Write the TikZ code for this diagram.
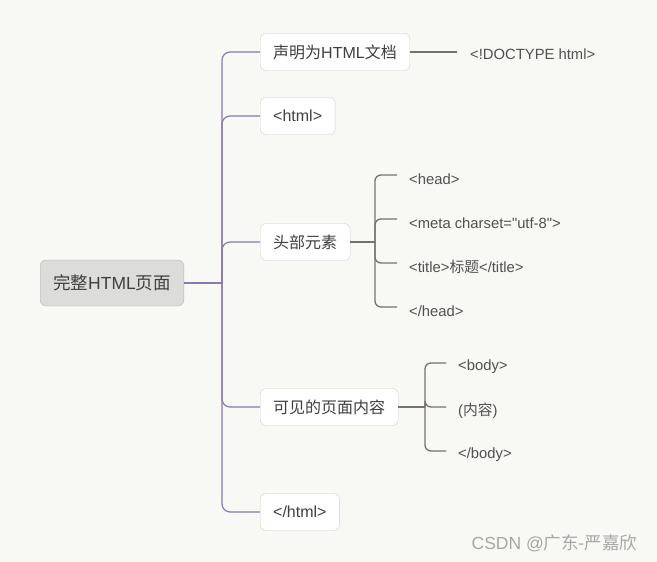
\documentclass[tikz,border=0pt]{standalone}
\usepackage{fontspec}
\setmainfont{Liberation Sans}
\newfontfamily\plainfont{Liberation Sans}
\newfontfamily\cjk{Noto Sans CJK SC}
\newcommand{\zh}[1]{{\cjk #1}}
\usetikzlibrary{positioning}
\definecolor{bgpaper}{HTML}{F8F8F5}
\definecolor{boxline}{HTML}{CFCFCB}
\definecolor{rootfill}{HTML}{DCDCDA}
\definecolor{rootline}{HTML}{B4B4B0}
\definecolor{txtdark}{HTML}{3F3F3F}
\definecolor{txtleaf}{HTML}{505050}
\definecolor{linkpurple}{HTML}{8A78AE}
\definecolor{linkgray}{HTML}{77716C}
\tikzset{
  topic/.style={draw=boxline, fill=white, rounded corners=6pt, inner xsep=13pt,
    minimum height=37pt, font=\fontsize{16}{18}\selectfont, text=txtdark, anchor=west},
  rootbox/.style={draw=rootline, fill=rootfill, rounded corners=6pt, inner xsep=13pt,
    minimum height=46pt, font=\fontsize{17.5}{19}\selectfont, text=txtdark, anchor=west},
  leaf/.style={font=\fontsize{14.8}{16}\selectfont, text=txtleaf, inner sep=0pt, anchor=west},
  mainlink/.style={draw=linkpurple, line width=1.2pt, rounded corners=8pt},
  sublink/.style={draw=linkgray, line width=1.3pt, rounded corners=6pt},
}
\begin{document}
\begin{tikzpicture}[x=1pt,y=-1pt]
% paper
\fill[bgpaper] (0,0) rectangle (657,562);
\useasboundingbox (0,0) rectangle (657,562);
% root and main topics
\node[rootbox] (root) at (40,283) {\zh{完整}HTML\zh{页面}};
\node[topic] (decl) at (260,52) {\zh{声明为}HTML\zh{文档}};
\node[topic] (htmlopen) at (260,116) {<html>};
\node[topic] (headpart) at (260,242) {\zh{头部元素}};
\node[topic] (bodypart) at (260,407) {\zh{可见的页面内容}};
\node[topic] (htmlclose) at (260,512) {</html>};
% spine
\coordinate (spine) at (222,283);
\draw[mainlink] (root.east) -- (spine);
\foreach \t in {decl,htmlopen,headpart,bodypart,htmlclose} {
  \draw[mainlink] (spine) |- (\t.west);
}
% doctype
\node[leaf] (doctype) at (470,54) {<!DOCTYPE html>};
\draw[sublink] (decl.east) -- ([xshift=-13pt]doctype.west |- decl.east);
% head children
\node[leaf] (headopen) at (409,179) {<head>};
\node[leaf] (meta) at (409,223) {\plainfont <meta charset="utf-8">};
\node[leaf] (titletag) at (409,267) {<title>\zh{标题}</title>};
\node[leaf] (headclose) at (409,311) {</head>};
\coordinate (headjoin) at (375,242);
\draw[sublink] (headpart.east) -- (headjoin);
\foreach \l in {headopen,meta,titletag,headclose} {
  \draw[sublink] (headjoin) |- ([xshift=-12pt,yshift=4pt]\l.west);
}
% body children
\node[leaf] (bodyopen) at (458,367) {<body>};
\node[leaf] (content) at (458,411) {(\zh{内容})};
\node[leaf] (bodyclose) at (458,455) {</body>};
\coordinate (bodyjoin) at (425,407);
\draw[sublink] (bodypart.east) -- (bodyjoin);
\foreach \l in {bodyopen,content,bodyclose} {
  \draw[sublink] (bodyjoin) |- ([xshift=-12pt,yshift=4pt]\l.west);
}
% watermark
\node[font=\fontsize{17.5}{19}\selectfont, text=black!35, anchor=east] (mark) at (641,543) {CSDN @\zh{广东-严嘉欣}};
\end{tikzpicture}
\end{document}
